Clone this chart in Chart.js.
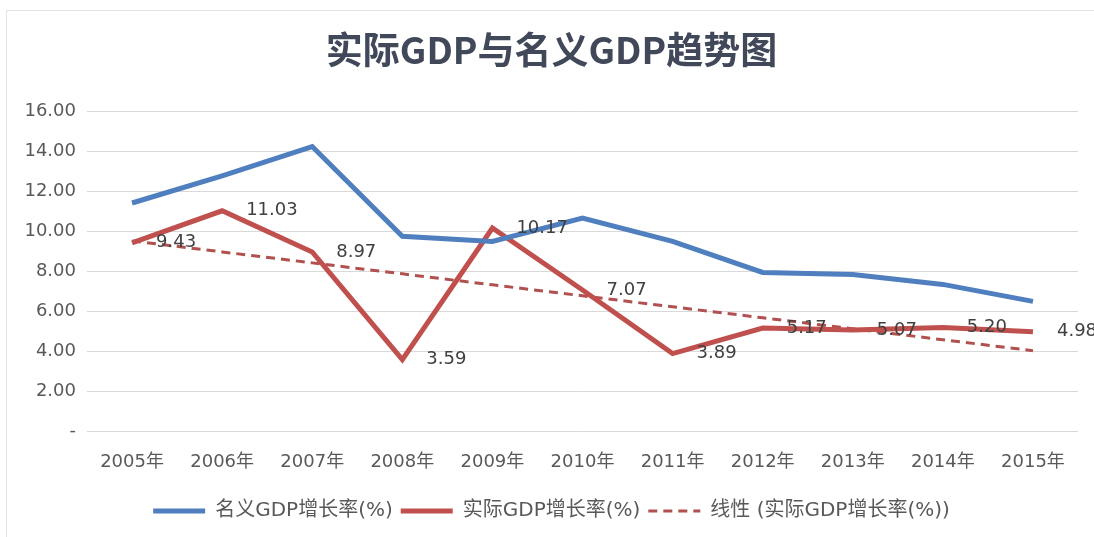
<!DOCTYPE html>
<html>
<head>
<meta charset="utf-8">
<script src="https://cdn.jsdelivr.net/npm/chart.js@4.4.1/dist/chart.umd.min.js"></script>
<style>
  html, body { margin: 0; padding: 0; background: #fff; }
  #wrap { position: relative; width: 1094px; height: 537px; }
  #frame { position: absolute; left: 6px; top: 10px; right: -2px; bottom: -2px; border: 1px solid #dfe3e8; }
  canvas { position: absolute; left: 0; top: 0; }
</style>
</head>
<body>
<div id="wrap">
  <div id="frame"></div>
  <canvas id="gdpChart" width="1094" height="537"></canvas>
</div>
<script>
// 年份
const anios = ['2005年', '2006年', '2007年', '2008年', '2009年', '2010年', '2011年', '2012年', '2013年', '2014年', '2015年'];
// 名义GDP增长率(%)
const nominalGdp = [11.42, 12.78, 14.24, 9.76, 9.50, 10.67, 9.50, 7.95, 7.85, 7.35, 6.50];
// 实际GDP增长率(%) - etiquetas del grafico
const realGdp = [9.43, 11.03, 8.97, 3.59, 10.17, 7.07, 3.89, 5.17, 5.07, 5.20, 4.98];

// linea de tendencia lineal (minimos cuadrados sobre realGdp, como hace Excel)
function tendenciaLineal(valores) {
  const n = valores.length;
  const xs = valores.map((_, i) => i + 1);
  const mx = xs.reduce((a, b) => a + b, 0) / n;
  const my = valores.reduce((a, b) => a + b, 0) / n;
  let sxy = 0, sxx = 0;
  xs.forEach((x, i) => { sxy += (x - mx) * (valores[i] - my); sxx += (x - mx) * (x - mx); });
  const pendiente = sxy / sxx;
  return xs.map((x) => my + pendiente * (x - mx));
}

const fuente = '"DejaVu Sans", "Noto Sans CJK SC", sans-serif';

// etiquetas de datos a la derecha de cada punto de la serie real
const etiquetasDatos = {
  id: 'etiquetasDatos',
  afterDatasetsDraw(chart) {
    const meta = chart.getDatasetMeta(1);
    const ctx = chart.ctx;
    ctx.save();
    ctx.font = '18px ' + fuente;
    ctx.fillStyle = '#404040';
    ctx.textAlign = 'left';
    ctx.textBaseline = 'middle';
    meta.data.forEach((pt, i) => {
      ctx.fillText(realGdp[i].toFixed(2), pt.x + 24, pt.y);
    });
    ctx.restore();
  },
};

// con usePointStyle la leyenda pierde el borderDash, se lo devolvemos
const etiquetasLeyenda = (chart) => {
  const items = Chart.defaults.plugins.legend.labels.generateLabels(chart);
  items.forEach((item) => {
    const ds = chart.data.datasets[item.datasetIndex];
    item.lineDash = ds.borderDash || [];
    item.lineWidth = ds.borderWidth;
    item.strokeStyle = ds.borderColor;
  });
  return items;
};

new Chart(document.getElementById('gdpChart'), {
  type: 'line',
  data: {
    labels: anios,
    datasets: [
      {
        label: '名义GDP增长率(%)',
        data: nominalGdp,
        borderColor: '#4F7FBE',
        backgroundColor: '#4F7FBE',
        borderWidth: 5,
        pointRadius: 0,
        tension: 0,
        fill: false,
      },
      {
        label: '实际GDP增长率(%)',
        data: realGdp,
        borderColor: '#C0504D',
        backgroundColor: '#C0504D',
        borderWidth: 5,
        pointRadius: 0,
        tension: 0,
        fill: false,
      },
      {
        label: '线性 (实际GDP增长率(%))',
        data: tendenciaLineal(realGdp),
        borderColor: '#B0504F',
        backgroundColor: '#B0504F',
        borderWidth: 3,
        borderDash: [9, 6],
        pointRadius: 0,
        tension: 0,
        fill: false,
      },
    ],
  },
  options: {
    responsive: false,
    animation: false,
    layout: { padding: { left: 25, right: 16, top: 12, bottom: 6 } },
    plugins: {
      title: {
        display: true,
        text: '实际GDP与名义GDP趋势图',
        color: '#404859',
        font: { family: '"Noto Sans CJK SC", sans-serif', size: 37, weight: 'bold' },
        padding: { top: 16, bottom: 39 },
      },
      legend: {
        position: 'bottom',
        labels: {
          usePointStyle: true,
          pointStyle: 'line',
          pointStyleWidth: 52,
          boxHeight: 18,
          padding: 8,
          color: '#595959',
          font: { family: fuente, size: 20 },
          generateLabels: etiquetasLeyenda,
        },
      },
      tooltip: { enabled: false },
    },
    scales: {
      x: {
        offset: true,
        grid: { display: false, drawTicks: false },
        border: { display: false },
        ticks: { color: '#595959', padding: 20, font: { family: fuente, size: 18 } },
      },
      y: {
        min: 0,
        max: 16,
        grid: { color: '#d9d9d9', lineWidth: 1, drawTicks: false },
        border: { display: false },
        ticks: {
          stepSize: 2,
          padding: 11,
          color: '#595959',
          font: { family: fuente, size: 18 },
          callback: (v) => (v === 0 ? '-' : v.toFixed(2)),
        },
        // ancho justo de las etiquetas + separacion
        afterFit: (scale) => { scale.width = 62; },
      },
    },
  },
  plugins: [etiquetasDatos],
});
</script>
</body>
</html>
